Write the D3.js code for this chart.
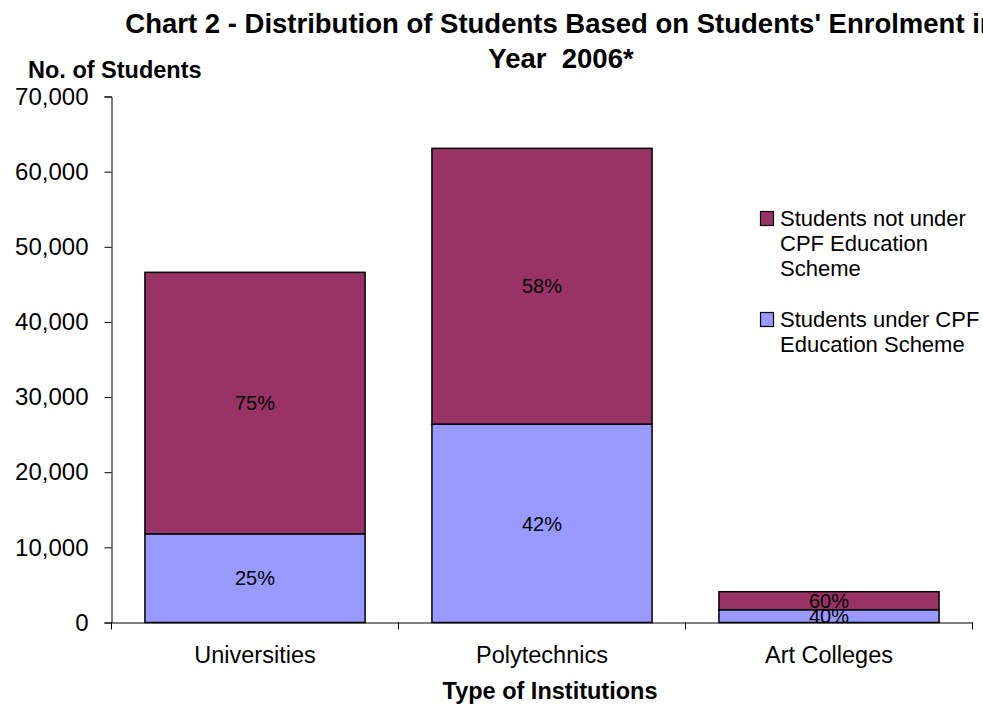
<!DOCTYPE html>
<meta charset="UTF-8">
<head>
    <title>Chart 2 - Distribution of Students</title>
    <style>
        body { margin: 0; background: #fff; }
        svg { display: block; font-family: "Liberation Sans", Arial, sans-serif; }
    </style>
</head>
<body>
<svg width="983" height="704"></svg>
<script src="https://d3js.org/d3.v7.min.js"></script>
<script>

// Chart data.
var categories = ["Universities", "Polytechnics", "Art Colleges"];
var underCPF = [11800, 26400, 1700];      // Students under CPF Education Scheme
var notUnderCPF = [34800, 36700, 2400];   // Students not under CPF Education Scheme
var underPct = ["25%", "42%", "40%"];
var notUnderPct = ["75%", "58%", "60%"];
var yTicks = [0, 10000, 20000, 30000, 40000, 50000, 60000, 70000];

var seriesNames = ["Students not under CPF Education Scheme", "Students under CPF Education Scheme"];
var colors = ["#993366", "#9999ff"];

var svg = d3.select("svg");

var x = d3.scaleBand()
    .domain(categories)
    .range([111.5, 972.5])
    .paddingInner(0.233)
    .paddingOuter(0.1165);

var y = d3.scaleLinear()
    .domain([0, 70000])
    .range([622.5, 96.5]);

// Build stacked rows from the arrays.
var rows = categories.map(function(c, i) {
    return { cat: c, under: underCPF[i], notUnder: notUnderCPF[i], pu: underPct[i], pn: notUnderPct[i] };
});
var stack = d3.stack().keys(["under", "notUnder"]);
var layers = stack(rows);

var g = svg.append("g");

layers.forEach(function(layer, li) {
    var fill = li == 0 ? colors[1] : colors[0];
    g.selectAll(".bar" + li)
        .data(layer)
        .enter().append("rect")
        .attr("x", function(d) { return x(d.data.cat); })
        .attr("y", function(d) { return y(d[1]); })
        .attr("width", x.bandwidth())
        .attr("height", function(d) { return y(d[0]) - y(d[1]); })
        .attr("fill", fill)
        .attr("stroke", "#000")
        .attr("stroke-width", 1.5);

    g.selectAll(".lab" + li)
        .data(layer)
        .enter().append("text")
        .attr("x", function(d) { return x(d.data.cat) + x.bandwidth() / 2; })
        .attr("y", function(d) { return (y(d[0]) + y(d[1])) / 2; })
        .attr("dy", "0.36em")
        .attr("text-anchor", "middle")
        .attr("font-size", 20)
        .attr("fill", "#000")
        .text(function(d) { return li == 0 ? d.data.pu : d.data.pn; });
});

// Y axis
var yAxis = svg.append("g")
    .attr("transform", "translate(111.5,0)")
    .call(d3.axisLeft(y).tickValues(yTicks).tickSize(7).tickPadding(16).tickFormat(d3.format(",")));
yAxis.select(".domain").attr("stroke", "#000");
yAxis.selectAll(".tick line").attr("stroke", "#000");
yAxis.selectAll("text").attr("font-size", 24).attr("font-family", "Liberation Sans, Arial, sans-serif").attr("fill", "#000");

// X axis
var xAxis = svg.append("g")
    .attr("transform", "translate(0,622.5)")
    .call(d3.axisBottom(x).tickSize(0).tickPadding(24).tickSizeOuter(0));
xAxis.select(".domain").attr("stroke", "#000");
xAxis.selectAll("text").attr("font-size", 23.5).attr("font-family", "Liberation Sans, Arial, sans-serif").attr("fill", "#000");

// boundary ticks between categories
var step = x.step();
var bounds = d3.range(categories.length + 1).map(function(i) { return x.range()[0] + i * step; });
xAxis.selectAll(".btick")
    .data(bounds)
    .enter().append("line")
    .attr("x1", function(d) { return d; })
    .attr("x2", function(d) { return d; })
    .attr("y1", 0)
    .attr("y2", 7)
    .attr("stroke", "#000");

// Titles
var title = svg.append("text")
    .attr("text-anchor", "middle")
    .attr("font-size", 27.5)
    .attr("font-weight", "bold")
    .attr("fill", "#000");
title.append("tspan").attr("x", 561).attr("y", 33)
    .text("Chart 2 - Distribution of Students Based on Students' Enrolment in");
title.append("tspan").attr("x", 561).attr("y", 68)
    .attr("xml:space", "preserve")
    .style("white-space", "pre")
    .text("Year  2006*");

svg.append("text")
    .attr("x", 28)
    .attr("y", 78)
    .attr("font-size", 23.5)
    .attr("font-weight", "bold")
    .text("No. of Students");

svg.append("text")
    .attr("x", 550)
    .attr("y", 699)
    .attr("text-anchor", "middle")
    .attr("font-size", 23.5)
    .attr("font-weight", "bold")
    .text("Type of Institutions");

// Legend
var legendLines = [["Students not under", "CPF Education", "Scheme"], ["Students under CPF", "Education Scheme"]];
var legendTop = [226, 327];
var legend = svg.append("g");
legendLines.forEach(function(lines, i) {
    legend.append("rect")
        .attr("x", 760.5)
        .attr("y", legendTop[i] - 14.5)
        .attr("width", 13)
        .attr("height", 14)
        .attr("fill", colors[i])
        .attr("stroke", "#000")
        .attr("stroke-width", 1.2);
    var t = legend.append("text").attr("font-size", 22).attr("fill", "#000");
    lines.forEach(function(l, j) {
        t.append("tspan").attr("x", 780).attr("y", legendTop[i] + j * 25).text(l);
    });
});
</script>
</body>
